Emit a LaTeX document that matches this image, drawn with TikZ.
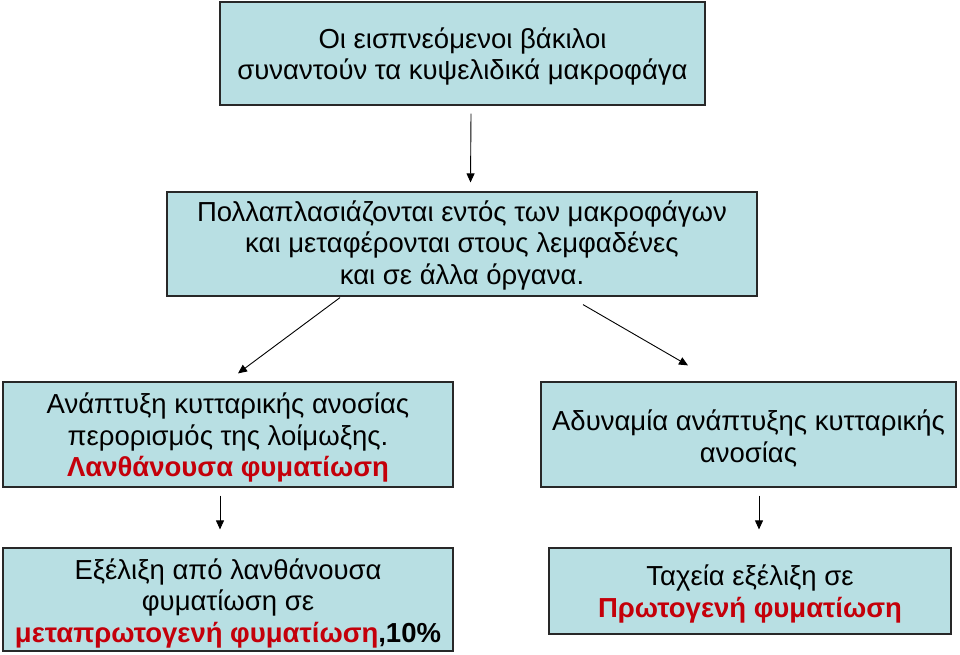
\documentclass[tikz,border=0pt]{standalone}
\usepackage{fontspec}
\setmainfont{Liberation Sans}
\usetikzlibrary{calc,arrows.meta}
\definecolor{boxfill}{RGB}{184,223,227}
\definecolor{boxline}{RGB}{40,40,40}
\definecolor{redtxt}{RGB}{196,0,10}
\tikzset{
  box/.style={draw=boxline, line width=1.2pt, fill=boxfill, inner sep=0pt},
  txt/.style={align=center, inner sep=0pt, font=\fontsize{27.5}{31.5}\selectfont},
  conn/.style={-{Triangle[length=9pt,width=8pt]}, line width=0.9pt, black}
}
\newcommand{\redb}[1]{\textcolor{redtxt}{\bfseries #1}}
\begin{document}
\begin{tikzpicture}[x=1pt,y=-1pt]
\useasboundingbox (0,0) rectangle (960,655);
\node[box, minimum width=485pt, minimum height=103pt] (b1) at (462.5,53.5) {};
\node[txt] (t1) at ($(b1.center)+(0,3)$)
  {Οι εισπνεόμενοι βάκιλοι\\συναντούν τα κυψελιδικά μακροφάγα};
\node[box, minimum width=590pt, minimum height=104pt] (b2) at (462,244) {};
\node[txt] (t2) at ($(b2.center)+(0,1)$)
  {Πολλαπλασιάζονται εντός των μακροφάγων\\και μεταφέρονται στους λεμφαδένες\\και σε άλλα όργανα.};
\node[box, minimum width=450pt, minimum height=105pt] (b3) at (228,434.5) {};
\node[txt] (t3) at ($(b3.center)+(0,3)$)
  {Ανάπτυξη κυτταρικής ανοσίας\\περορισμός της λοίμωξης.\\\redb{Λανθάνουσα φυματίωση}};
\node[box, minimum width=415pt, minimum height=105pt] (b4) at (748.5,434.5) {};
\node[txt] (t4) at ($(b4.center)+(0,4)$)
  {Αδυναμία ανάπτυξης κυτταρικής\\ανοσίας};
\node[box, minimum width=450pt, minimum height=103pt] (b5) at (228,599.5) {};
\node[txt] (t5) at ($(b5.center)+(0,3.5)$)
  {Εξέλιξη από λανθάνουσα\\φυματίωση σε\\\redb{μεταπρωτογενή φυματίωση}{\bfseries ,10\%}};
\node[box, minimum width=402pt, minimum height=86pt] (b6) at (750,591) {};
\node[txt] (t6) at ($(b6.center)+(0,3)$)
  {Ταχεία εξέλιξη σε\\\redb{Πρωτογενή φυματίωση}};
\draw[conn] ($(b1.south)+(8.5,8)$) -- ($(b2.north)+(8.5,-9)$);
\draw[conn] ($(b2.south)+(-122,1)$) -- ($(b3.north)+(10,-8)$);
\draw[conn] ($(b2.south)+(121,8)$) -- ($(b4.north)+(-60.5,-16)$);
\draw[conn] ($(b3.south)+(-8,8)$) -- ($(b5.north)+(-8,-18)$);
\draw[conn] ($(b4.south)+(10.5,8)$) -- ($(b6.north)+(9,-18)$);
\end{tikzpicture}
\end{document}
